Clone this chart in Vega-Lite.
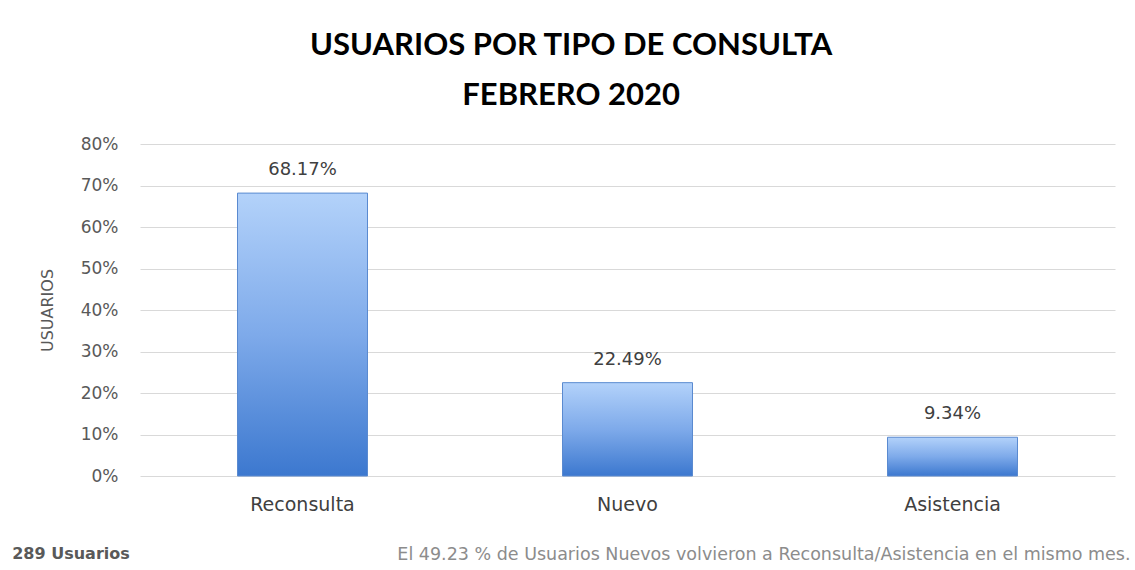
{
  "$schema": "https://vega.github.io/schema/vega-lite/v6.json",
  "background": "white",
  "padding": {"left": 12, "top": 30, "right": 5, "bottom": 5},
  "title": {
    "text": ["USUARIOS POR TIPO DE CONSULTA", "FEBRERO 2020"],
    "font": "Lato",
    "fontSize": 31,
    "fontWeight": "bold",
    "color": "#000000",
    "lineHeight": 50,
    "anchor": "middle",
    "offset": 23
  },
  "data": {
    "values": [
      {"tipo": "Reconsulta", "pct": 0.6817},
      {"tipo": "Nuevo", "pct": 0.2249},
      {"tipo": "Asistencia", "pct": 0.0934}
    ]
  },
  "vconcat": [
    {
      "width": 975,
      "height": 332,
      "title": {
        "text": "289 Usuarios",
        "orient": "bottom",
        "anchor": "start",
        "font": "DejaVu Sans",
        "fontSize": 16,
        "fontWeight": "bold",
        "color": "#595959",
        "dx": -27,
        "offset": -17
      },
      "encoding": {
        "x": {
          "field": "tipo",
          "type": "nominal",
          "sort": null,
          "scale": {"paddingInner": 0.6, "paddingOuter": 0.3},
          "axis": {
            "labelAngle": 0,
            "labelFont": "DejaVu Sans",
            "labelFontSize": 19,
            "labelColor": "#404040",
            "labelPadding": 19,
            "ticks": false,
            "domain": false,
            "title": "El 49.23 % de Usuarios Nuevos volvieron a Reconsulta/Asistencia en el mismo mes.",
            "titleFont": "DejaVu Sans",
            "titleFontSize": 17.5,
            "titleFontWeight": "normal",
            "titleColor": "#8c8c8c",
            "titleAlign": "right",
            "titleBaseline": "middle",
            "titleX": 990,
            "titleY": 78
          }
        },
        "y": {
          "field": "pct",
          "type": "quantitative",
          "scale": {"domain": [0, 0.8]},
          "axis": {
            "values": [0, 0.1, 0.2, 0.3, 0.4, 0.5, 0.6, 0.7, 0.8],
            "format": ".0%",
            "labelFont": "DejaVu Sans",
            "labelFontSize": 17,
            "labelColor": "#595959",
            "labelPadding": 22,
            "ticks": false,
            "domain": false,
            "gridColor": "#d9d9d9",
            "gridWidth": 1,
            "title": "USUARIOS",
            "titleFont": "DejaVu Sans",
            "titleFontSize": 16,
            "titleFontWeight": "normal",
            "titleColor": "#595959",
            "titlePadding": 25
          }
        }
      },
      "layer": [
        {
          "mark": {
            "type": "bar",
            "stroke": "#5a8ad0",
            "strokeWidth": 1,
            "color": {
              "gradient": "linear",
              "x1": 0, "y1": 0, "x2": 0, "y2": 1,
              "stops": [
                {"offset": 0, "color": "#b3d2fa"},
                {"offset": 0.5, "color": "#7eaaea"},
                {"offset": 1, "color": "#3c78cf"}
              ]
            }
          }
        },
        {
          "mark": {
            "type": "text",
            "font": "DejaVu Sans",
            "fontSize": 18,
            "color": "#404040",
            "baseline": "bottom",
            "dy": -14
          },
          "encoding": {
            "text": {"field": "pct", "type": "quantitative", "format": ".2%"}
          }
        }
      ]
    }
  ],
  "config": {"view": {"stroke": null}}
}
